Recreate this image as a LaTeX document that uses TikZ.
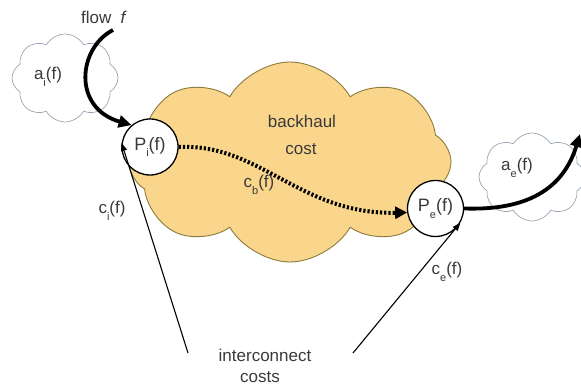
\documentclass[tikz,border=0pt]{standalone}
\usepackage{fontspec}
\setmainfont{Liberation Sans}
\usetikzlibrary{shapes.symbols,arrows.meta}
\definecolor{cloudfill}{HTML}{F9D68C}
\definecolor{cloudline}{HTML}{8C7B3E}
\definecolor{smallcloud}{HTML}{9AA6B2}
\definecolor{txt}{HTML}{3A3A3A}
\newcommand\subx[1]{\raisebox{-0.38em}{\fontsize{11}{11}\selectfont #1}}
\begin{document}
\begin{tikzpicture}[x=1pt,y=-1pt,
  lbl/.style={text=txt,font=\fontsize{17}{19}\selectfont,inner sep=0pt},
  bigcloud/.style={cloud,cloud puffs=8,cloud puff arc=120,aspect=1.6,fill=cloudfill,draw=cloudline,line width=0.9pt,minimum width=322pt,minimum height=200pt},
  smcloud/.style={cloud,cloud puffs=8,cloud puff arc=120,aspect=1.25,fill=white,draw=smallcloud,line width=0.7pt,minimum width=106pt,minimum height=88pt},
  pop/.style={circle,draw=black,line width=1.3pt,fill=white,minimum size=56pt,inner sep=0pt,text=txt,font=\fontsize{18}{20}\selectfont},
  flowarrow/.style={line width=3.8pt,-{Triangle[length=13pt,width=12pt]}},
  dotarrow/.style={line width=4pt,dash pattern=on 2.2pt off 2pt,-{Triangle[length=12pt,width=12pt]}},
  icarrow/.style={line width=1.1pt,-{Triangle[length=8pt,width=6pt]}}]
\useasboundingbox (0,0) rectangle (581,387);
% clouds
\node[bigcloud] (core) at (290,162) {};
\node[smcloud] (cai) at (65,78) {};
\node[smcloud] (cae) at (532,177) {};
% labels in clouds
\node[lbl] (bh) at (302,121) {backhaul};
\node[lbl] (bc) at (301,149) {cost};
\node[lbl] (ai) at (48,77) {a\subx{i}(f)};
\node[lbl] (ae) at (517,168) {a\subx{e}(f)};
% peering points
\node[pop] (pi) at (150,147) {P\subx{i}(f)};
\node[pop] (pe) at (435.5,208.5) {P\subx{e}(f)};
% other labels
\node[lbl] (flow) at (104,17) {flow\ \ \textit{f}};
\node[lbl] (cb) at (259,185) {c\subx{b}(f)};
\node[lbl] (ci) at (112,211) {c\subx{i}(f)};
\node[lbl] (ce) at (447,272) {c\subx{e}(f)};
\node[lbl] (ic) at (265,355) {interconnect};
\node[lbl] (ics) at (260,377) {costs};
% coordinates
\coordinate (fs) at (113,30);
\coordinate (fo) at (580,134);
\coordinate (ic1) at (188,353);
\coordinate (ic2) at (353,353);
% arrows
\draw[flowarrow] (fs) .. controls (78,48) and (72,108) .. (pi.130);
\draw[dotarrow] (pi.east) .. controls (260,143) and (300,215) .. (pe.188);
\draw[flowarrow] (pe.east) .. controls (510,210) and (560,200) .. (fo);
\draw[icarrow] (ic1) -- (pi.172);
\draw[icarrow] (ic2) -- (pe.-30);
\end{tikzpicture}
\end{document}
